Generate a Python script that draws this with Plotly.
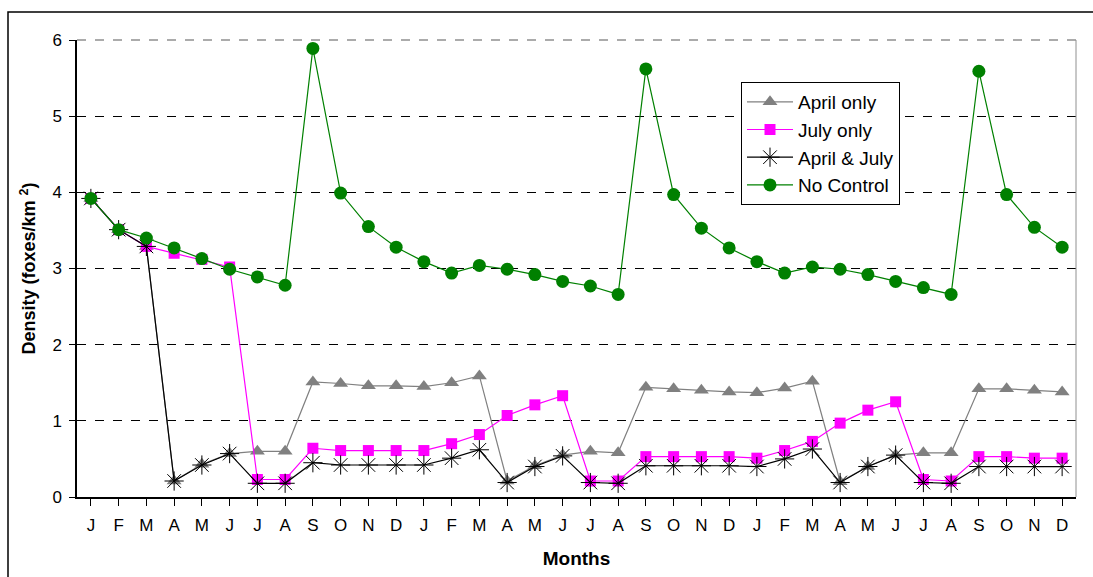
import plotly.graph_objects as go

months = ["J","F","M","A","M","J","J","A","S","O","N","D"] * 3
x_idx = list(range(36))

april_only = [3.92, 3.51, 3.29, 0.21, 0.43, 0.57, 0.60, 0.60, 1.51, 1.49, 1.46, 1.46,
              1.45, 1.50, 1.59, 0.21, 0.41, 0.55, 0.60, 0.58, 1.44, 1.42, 1.40, 1.38,
              1.37, 1.43, 1.52, 0.20, 0.40, 0.55, 0.58, 0.58, 1.42, 1.42, 1.40, 1.38]
july_only = [3.92, 3.51, 3.29, 3.20, 3.12, 3.02, 0.23, 0.23, 0.64, 0.61, 0.61, 0.61,
             0.61, 0.70, 0.82, 1.07, 1.21, 1.33, 0.21, 0.21, 0.53, 0.53, 0.53, 0.53,
             0.51, 0.61, 0.73, 0.97, 1.14, 1.25, 0.23, 0.21, 0.53, 0.53, 0.51, 0.51]
april_july = [3.92, 3.51, 3.29, 0.21, 0.42, 0.57, 0.18, 0.18, 0.45, 0.42, 0.42, 0.42,
              0.42, 0.51, 0.62, 0.19, 0.40, 0.54, 0.19, 0.18, 0.41, 0.41, 0.41, 0.41,
              0.40, 0.50, 0.63, 0.19, 0.40, 0.55, 0.19, 0.18, 0.40, 0.40, 0.40, 0.40]
no_control = [3.92, 3.51, 3.40, 3.27, 3.13, 2.99, 2.89, 2.78, 5.89, 3.99, 3.55, 3.28,
              3.09, 2.94, 3.04, 2.99, 2.92, 2.83, 2.77, 2.66, 5.62, 3.97, 3.53, 3.27,
              3.09, 2.94, 3.02, 2.99, 2.92, 2.83, 2.75, 2.66, 5.59, 3.97, 3.54, 3.28]

FONT = "Liberation Sans, Arial, sans-serif"

fig = go.Figure()
fig.add_trace(go.Scatter(x=x_idx, y=april_only, name="April only", mode="lines+markers",
                         legendgroup="a",
                         line=dict(color="#808080", width=1.2),
                         marker=dict(symbol="triangle-up", size=13, color="#808080")))
fig.add_trace(go.Scatter(x=x_idx, y=july_only, name="July only", mode="lines+markers",
                         legendgroup="b",
                         line=dict(color="#FF00FF", width=1.2),
                         marker=dict(symbol="square", size=11, color="#FF00FF")))
fig.add_trace(go.Scatter(x=x_idx, y=april_july, name="April & July", mode="lines+markers",
                         legendgroup="c",
                         line=dict(color="#000000", width=1.2),
                         marker=dict(symbol="asterisk-open", size=16,
                                     line=dict(color="#000000", width=1))))
fig.add_trace(go.Scatter(x=x_idx, y=no_control, name="No Control", mode="lines+markers",
                         legendgroup="d",
                         line=dict(color="#008000", width=1.2),
                         marker=dict(symbol="circle", size=13, color="#008000")))

# plot area: x 77..1076 px, y 40..497.5 px
L, R, T, B = 77, 1076, 40, 497.5
W, H = R - L, B - T
def px_x(p): return (p - L) / W
def px_y(p): return (B - p) / H

# outer chart border (cut off at right and bottom)
fig.add_shape(type="rect", xref="paper", yref="paper",
              x0=px_x(8), x1=px_x(1100), y0=px_y(600), y1=px_y(12),
              line=dict(color="black", width=1.5), layer="below")
# right & top gray plot-area border
fig.add_shape(type="line", xref="paper", yref="paper", x0=1, x1=1, y0=0, y1=1,
              line=dict(color="#909090", width=1))
fig.add_shape(type="line", xref="paper", yref="paper", x0=0, x1=1, y0=1, y1=1,
              line=dict(color="#909090", width=1.5, dash="dash"))

fig.update_layout(
    width=1093, height=577,
    margin=dict(l=L, r=1093 - R, t=T, b=577 - B),
    paper_bgcolor="white", plot_bgcolor="white",
    font=dict(family=FONT, size=17, color="black"),
    showlegend=True,
    legend=dict(x=px_x(741), y=px_y(82), xanchor="left", yanchor="top",
                bordercolor="black", borderwidth=1, bgcolor="white",
                font=dict(family=FONT, size=19), tracegroupgap=0,
                traceorder="grouped", itemwidth=46),
    xaxis=dict(
        tickmode="array", tickvals=x_idx, ticktext=months,
        range=[-0.5, 35.5], showgrid=False, zeroline=False,
        showline=True, linecolor="black", linewidth=1.5,
        ticks="outside", ticklen=7, tickcolor="black", tickson="boundaries",
        tickfont=dict(size=17), ticklabelstandoff=5,
        title=dict(text="<b>Months</b>", font=dict(size=19), standoff=18),
    ),
    yaxis=dict(
        range=[0, 6], tickvals=[0, 1, 2, 3, 4, 5, 6], showgrid=True,
        gridcolor="black", griddash="dash", gridwidth=1, zeroline=False,
        showline=True, linecolor="black", linewidth=1.5,
        ticks="outside", ticklen=6, tickcolor="black",
        tickfont=dict(size=17), ticklabelstandoff=4,
        title=dict(text="<b>Density (foxes/km <sup>2</sup>)</b>", font=dict(size=18), standoff=12),
    ),
)

fig.write_html("out.html", config={"displayModeBar": False},
               post_script="document.body.style.margin='0px';")
